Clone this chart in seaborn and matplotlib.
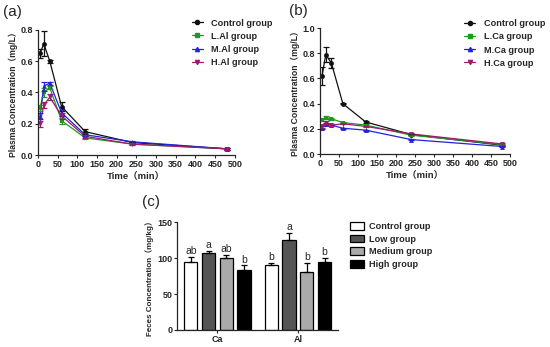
import matplotlib
matplotlib.use("Agg")
import matplotlib.pyplot as plt
import seaborn as sns
import pandas as pd
from matplotlib.patches import Patch
from matplotlib.lines import Line2D

sns.set_style("ticks")
plt.rcParams['font.family'] = ['Liberation Sans', 'Noto Sans CJK SC', 'DejaVu Sans']

# ---- data ----
time = [5, 15, 30, 60, 120, 240, 480]

# panel (a): Al groups
al_groups = ["Control group", "L.Al group", "M.Al group", "H.Al group"]
al_ctrl = [0.65, 0.71, 0.60, 0.31, 0.15, 0.08, 0.04]
al_ctrl_err = [0.03, 0.08, 0.01, 0.03, 0.015, 0.005, 0.005]
al_low = [0.30, 0.40, 0.43, 0.22, 0.11, 0.07, 0.04]
al_low_err = [0.02, 0.03, 0.01, 0.02, 0.01, 0.005, 0.005]
al_med = [0.25, 0.44, 0.46, 0.27, 0.13, 0.085, 0.04]
al_med_err = [0.02, 0.03, 0.01, 0.02, 0.01, 0.005, 0.005]
al_high = [0.20, 0.32, 0.37, 0.25, 0.12, 0.07, 0.04]
al_high_err = [0.02, 0.02, 0.02, 0.02, 0.01, 0.005, 0.005]

# panel (b): Ca groups
ca_groups = ["Control group", "L.Ca group", "M.Ca group", "H.Ca group"]
ca_ctrl = [0.62, 0.79, 0.72, 0.40, 0.255, 0.155, 0.07]
ca_ctrl_err = [0.07, 0.06, 0.04, 0.005, 0.01, 0.005, 0.005]
ca_low = [0.27, 0.29, 0.28, 0.25, 0.23, 0.15, 0.075]
ca_med = [0.21, 0.24, 0.23, 0.205, 0.19, 0.115, 0.06]
ca_high = [0.22, 0.25, 0.23, 0.24, 0.22, 0.16, 0.08]
ca_small_err = [0.01, 0.01, 0.01, 0.005, 0.005, 0.005, 0.005]

# panel (c): feces
elements = ["Ca", "Al"]
bar_groups = ["Control group", "Low group", "Medium group", "High group"]
feces = {"Ca": [94, 107, 100, 83], "Al": [91, 125, 80, 95]}
feces_err = {"Ca": [8, 3, 4, 7], "Al": [2, 10, 13, 5]}
letters = {"Ca": ["ab", "a", "ab", "b"], "Al": ["b", "a", "b", "b"]}

line_colors = ["#111111", "#1f9a1f", "#2222dd", "#a01a6e"]
markers = ["o", "s", "^", "v"]
bar_colors = ["#ffffff", "#555555", "#aaaaaa", "#000000"]

fig = plt.figure(figsize=(5.5, 3.47), dpi=100)
ax_a = fig.add_axes([0.069, 0.553, 0.358, 0.361])
ax_b = fig.add_axes([0.582, 0.556, 0.345, 0.363])
ax_c = fig.add_axes([0.322, 0.049, 0.293, 0.311])

tick_kw = dict(labelsize=6.5, width=0.8, length=2.5, pad=1)


def kinetics(ax, groups, series, errs, ylim, yticks, label, leg_xy, lab_xy):
    rows = []
    for g, vals in zip(groups, series):
        for t, v in zip(time, vals):
            rows.append({"Time": t, "Conc": v, "Group": g})
    df = pd.DataFrame(rows)
    sns.lineplot(data=df, x="Time", y="Conc", hue="Group", style="Group",
                 palette=line_colors, markers=markers, dashes=False,
                 markersize=3.5, linewidth=0.9, markeredgewidth=0,
                 ax=ax, legend=False)
    for vals, e, c in zip(series, errs, line_colors):
        ax.errorbar(time, vals, yerr=e, fmt="none", ecolor=c,
                    elinewidth=0.9, capsize=2, capthick=0.9)
    ax.set_xlim(0, 500)
    ax.set_ylim(*ylim)
    ax.set_xticks(range(0, 501, 50))
    ax.set_yticks(yticks)
    ax.set_yticklabels([f"{v:.1f}" for v in yticks])
    ax.tick_params(**tick_kw)
    for lab in ax.get_xticklabels() + ax.get_yticklabels():
        lab.set_fontweight("bold")
    for s in ["left", "bottom"]:
        ax.spines[s].set_linewidth(0.9)
    sns.despine(ax=ax)
    ax.set_xlabel("Time（min）", fontsize=6.8, fontweight="bold", labelpad=2)
    ax.set_ylabel("Plasma Concentration（mg/L）", fontsize=6.2,
                  fontweight="bold", labelpad=2)
    handles = [Line2D([], [], color=c, marker=m, markersize=3, linewidth=0.9)
               for c, m in zip(line_colors, markers)]
    ax.legend(handles, groups, loc="upper left", bbox_to_anchor=leg_xy,
              frameon=False, prop={"size": 6.6, "weight": "bold"},
              handlelength=1.2, handletextpad=0.9, labelspacing=0.45,
              borderaxespad=0, borderpad=0)
    ax.text(lab_xy[0], lab_xy[1], label, transform=ax.transAxes, fontsize=11,
            va="top", ha="left")


kinetics(ax_a, al_groups, [al_ctrl, al_low, al_med, al_high],
         [al_ctrl_err, al_low_err, al_med_err, al_high_err],
         (0, 0.8), [0.0, 0.2, 0.4, 0.6, 0.8], "(a)",
         (0.78, 1.09), (-0.175, 1.2))
kinetics(ax_b, ca_groups, [ca_ctrl, ca_low, ca_med, ca_high],
         [ca_ctrl_err, ca_small_err, ca_small_err, ca_small_err],
         (0, 1.0), [0.0, 0.2, 0.4, 0.6, 0.8, 1.0], "(b)",
         (0.76, 1.07), (-0.165, 1.19))

# ---- panel (c) ----
rows = []
for el in elements:
    for g, v in zip(bar_groups, feces[el]):
        rows.append({"Element": el, "Group": g, "Value": v})
bdf = pd.DataFrame(rows)
sns.barplot(data=bdf, x="Element", y="Value", hue="Group", palette=bar_colors,
            edgecolor="black", linewidth=0.9, width=0.88, gap=0.25,
            errorbar=None, ax=ax_c, legend=False)
# patches are ordered by hue then by category
for gi, g in enumerate(bar_groups):
    for ei, el in enumerate(elements):
        p = ax_c.patches[gi * len(elements) + ei]
        xc = p.get_x() + p.get_width() / 2
        v = feces[el][gi]
        e = feces_err[el][gi]
        ax_c.errorbar(xc, v, yerr=[[0], [e]], fmt="none", ecolor="black",
                      elinewidth=0.9, capsize=2.5, capthick=0.9)
        ax_c.text(xc, v + e + 1, letters[el][gi], ha="center", va="bottom",
                  fontsize=7.5)
ax_c.set_xlim(-0.5, 1.5)
ax_c.set_ylim(0, 150)
ax_c.set_yticks([0, 50, 100, 150])
ax_c.tick_params(**tick_kw)
for lab in ax_c.get_xticklabels() + ax_c.get_yticklabels():
    lab.set_fontweight("bold")
sns.despine(ax=ax_c)
for s in ["left", "bottom"]:
    ax_c.spines[s].set_linewidth(0.9)
ax_c.set_xlabel("")
ax_c.set_ylabel("Feces Concentration（mg/kg）", fontsize=5.8, fontweight="bold",
                labelpad=2)
bh = [Patch(facecolor=c, edgecolor="black", linewidth=0.9) for c in bar_colors]
ax_c.legend(bh, bar_groups, loc="upper left", bbox_to_anchor=(1.075, 1.0),
            frameon=False, prop={"size": 6.6, "weight": "bold"},
            handlelength=1.45, handleheight=0.9, handletextpad=0.6,
            labelspacing=0.4, borderaxespad=0, borderpad=0)
ax_c.text(-0.22, 1.25, "(c)", transform=ax_c.transAxes, fontsize=11,
          va="top", ha="left")

fig.savefig("out.png", dpi=100)
